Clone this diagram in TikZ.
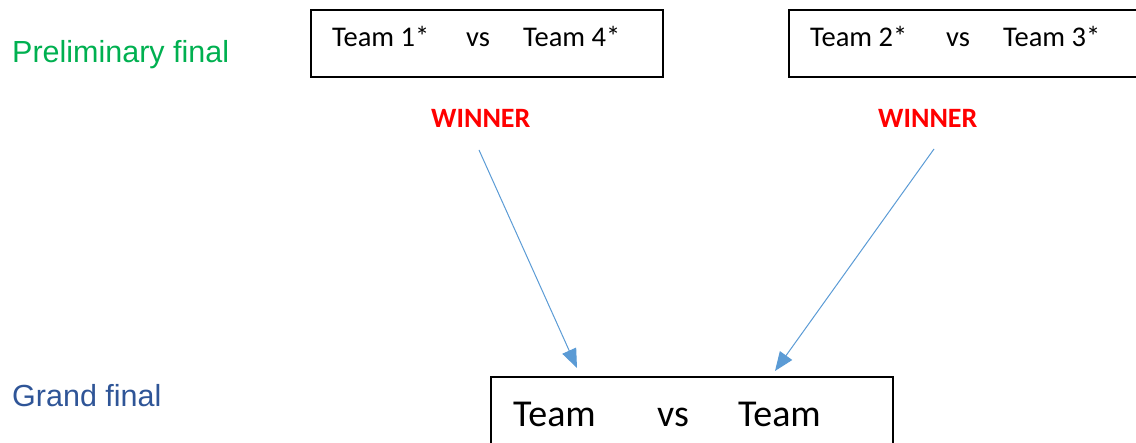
\documentclass[tikz,border=0pt]{standalone}
\usepackage{fontspec}
\setmainfont{Carlito}
\newfontfamily\arialf{Liberation Sans}
\usetikzlibrary{arrows.meta}
\definecolor{prelgreen}{HTML}{00B050}
\definecolor{grandblue}{HTML}{2F5597}
\definecolor{arrowblue}{HTML}{5B9BD5}
\definecolor{winred}{HTML}{FF0000}
\tikzset{
  matchbox/.style={draw=black, line width=1.6pt, rectangle, inner sep=0pt},
  teamtxt/.style={anchor=base west, inner sep=0pt, font=\fontsize{28.5}{32}\selectfont},
  bigtxt/.style={anchor=base west, inner sep=0pt, font=\fontsize{38}{44}\selectfont},
  rowlabel/.style={anchor=base west, inner sep=0pt, font=\arialf\fontsize{30.5}{34}\selectfont},
  wintxt/.style={anchor=base west, inner sep=0pt, text=winred, font=\bfseries\fontsize{28}{32}\selectfont},
  winarrow/.style={draw=arrowblue, line width=1pt, -{Triangle[length=19pt,width=15pt]}}
}
\begin{document}
\begin{tikzpicture}[x=1pt,y=-1pt]
\useasboundingbox (0,0) rectangle (1136,443);
\clip (0,0) rectangle (1136,443);
% row labels
\node[rowlabel, text=prelgreen] (prel) at (12,63) {Preliminary final};
\node[rowlabel, text=grandblue] (grand) at (12,407) {Grand final};
% boxes
\node[matchbox, minimum width=352pt, minimum height=67pt] (box1) at (487,43.5) {};
\node[matchbox, minimum width=370pt, minimum height=67pt] (box2) at (974,43.5) {};
\node[matchbox, minimum width=402pt, minimum height=90pt] (box3) at (692,422) {};
% box texts
\node[teamtxt] (t1) at (332,47) {Team 1*};
\node[teamtxt] (v1) at (466,47) {vs};
\node[teamtxt] (t4) at (523,47) {Team 4*};
\node[teamtxt] (t2) at (810,47) {Team 2*};
\node[teamtxt] (v2) at (946,47) {vs};
\node[teamtxt] (t3) at (1003,47) {Team 3*};
\node[bigtxt] (g1) at (513,427) {Team};
\node[bigtxt] (gv) at (657,427) {vs};
\node[bigtxt] (g2) at (738,427) {Team};
% winners
\node[wintxt] (w1) at (431,128) {WINNER};
\node[wintxt] (w2) at (878,128) {WINNER};
% arrows
\coordinate (a1s) at (479,150);
\coordinate (a1e) at (577,368);
\coordinate (a2s) at (934,149);
\coordinate (a2e) at (775,371);
\draw[winarrow] (a1s) -- (a1e);
\draw[winarrow] (a2s) -- (a2e);
\end{tikzpicture}
\end{document}
